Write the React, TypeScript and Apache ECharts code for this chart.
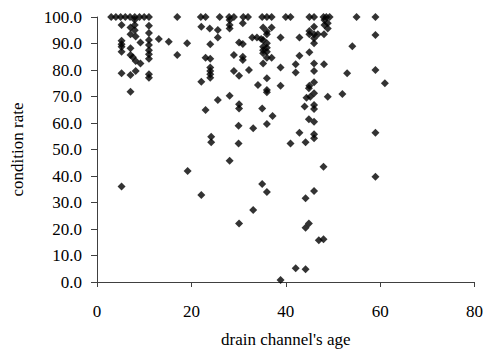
import React, { useEffect, useRef } from "react";
import * as echarts from "echarts";

// drain channel's age (x) and condition rate (y)
const ages: number[] = [
  3, 4, 5, 6, 7, 8, 9, 10, 11, 17, 22, 23, 26, 28, 29, 31, 32, 35, 36, 37, 40, 41, 45, 46, 48, 48.6, 49.3, 55, 59,
  5.2, 7.1, 8, 8, 8, 11, 7.1, 8.2, 9.2, 11, 11, 11, 11, 11, 11, 5.2, 5.2, 5.2, 5.2, 7.1, 7.1, 7.6, 8.2, 9.2,
  13.1, 15.2, 19.1, 17, 5.2, 7.1, 8.2, 11, 11, 7.1, 22.1, 25.6, 23, 22.1, 23.9, 25.6, 25.6, 24, 23, 24, 24, 24, 24, 24,
  28.1, 28.1, 28.1, 30.9, 35.2, 37, 36, 36, 32.9, 33.9, 34.8, 35.2, 36, 35.2, 36, 35.2, 36, 35.2, 38.9, 42.9,
  30.1, 30.9, 29, 30.9, 30.9, 36, 37, 35.2, 42.9, 45, 32.2, 38.9, 42.1, 42.1, 46, 48.1, 46, 29, 30.1, 36, 34.1,
  36, 36, 38.9, 45, 46, 46, 44.9, 44.4, 45.2, 48.9, 28.1, 30.1, 30.1, 35, 44, 46, 46,
  48.2, 48.9, 48.2, 48.9, 45, 45, 46, 46.8, 48.1, 46, 46, 46,
  59, 54.1, 53, 59, 61, 52,
  24.2, 24.2, 19.2, 5.2, 22.1,
  37.2, 30, 33.1, 36, 44.9, 46, 42.9, 46, 46, 30, 41, 44.2, 28.1, 48, 35, 36, 46, 44.2, 33.1,
  59, 59,
  30.1, 44.2, 44.9, 47, 48, 42.1, 44.2, 38.9,
];

const rates: number[] = [
  100, 100, 100, 100, 100, 100, 100, 100, 100, 100, 100, 100, 100, 100, 100, 100, 100, 100, 100, 100, 100, 100, 100, 100, 100, 100, 100, 100, 100,
  97, 96, 99, 97, 95, 96.7, 93.5, 92.6, 90.4, 94, 91.3, 89.4, 87.5, 85.9, 84.2, 91, 89.7, 88.8, 86.9, 88.2, 85.7, 84.8, 83.4, 82.5,
  91.7, 90.7, 90.1, 85.7, 78.8, 78.1, 79.6, 78.4, 77.1, 71.8, 75.6, 68.7, 64.9, 96.3, 95.7, 95.1, 92.3, 89.7, 84.6, 84.2, 80.9, 79.6, 78.4, 77.1,
  98.9, 97, 95.7, 97.6, 96, 96, 94.5, 93.5, 92.3, 92.3, 91.7, 91.3, 90.1, 88.8, 88.4, 87.5, 86.9, 86.3, 92.3, 92.3,
  90.4, 89.8, 85.7, 85, 83.8, 84.6, 84.6, 82.5, 85.4, 86.7, 80, 80.9, 82.2, 79.1, 82.5, 82.2, 79.6, 79.6, 77.8, 76.9, 74.3,
  72.5, 71.6, 74.1, 74.1, 75.4, 71.2, 73.1, 69.5, 69.9, 69.9, 70.3, 67.1, 65.5, 65.5, 66.2, 66.8, 65.3,
  98.9, 97.6, 97, 95.7, 94.7, 93.5, 93.5, 93.5, 93.5, 92, 90.1, 96.3,
  93.2, 89, 78.8, 80, 75, 70.9,
  54.8, 52.7, 41.9, 36, 32.8,
  62.6, 59, 58, 59.6, 61.4, 60.5, 56.3, 55.8, 54.2, 52.3, 52.3, 52.7, 45.8, 43.5, 37, 34, 34.3, 31.6, 27.2,
  56.3, 39.7,
  22.1, 20.5, 22.1, 15.8, 16.1, 5.2, 4.8, 0.8,
];

const xName = "drain channel's age";
const yName = "condition rate";

export default function App() {
  const ref = useRef<HTMLDivElement>(null);
  useEffect(() => {
    document.body.style.margin = "0";
    document.body.style.overflow = "hidden";
    if (!ref.current) return;
    const chart = echarts.init(ref.current, undefined, { renderer: "svg" });
    const data = ages.map((a, i) => [a, rates[i]]);
    const font = "'Liberation Serif', 'Times New Roman', serif";
    const axisCol = "#404040";
    chart.setOption({
      animation: false,
      backgroundColor: "#ffffff",
      grid: { left: 97, top: 17, right: 11, bottom: 71, containLabel: false },
      xAxis: {
        type: "value",
        min: 0,
        max: 80,
        interval: 20,
        name: xName,
        nameLocation: "middle",
        nameGap: 49,
        nameTextStyle: { fontFamily: font, fontSize: 17, color: "#000" },
        axisLine: { show: true, onZero: false, lineStyle: { color: axisCol, width: 1 } },
        axisTick: { show: true, inside: false, length: 5, lineStyle: { color: axisCol } },
        axisLabel: { fontFamily: font, fontSize: 17, color: "#000", margin: 21 },
        splitLine: { show: false },
      },
      yAxis: {
        type: "value",
        min: 0,
        max: 100,
        interval: 10,
        name: yName,
        nameLocation: "middle",
        nameGap: 71,
        nameRotate: 90,
        nameTextStyle: { fontFamily: font, fontSize: 17, color: "#000" },
        axisLine: { show: true, lineStyle: { color: axisCol, width: 1 } },
        axisTick: { show: true, inside: false, length: 6, lineStyle: { color: axisCol } },
        axisLabel: {
          fontFamily: font,
          fontSize: 17,
          color: "#000",
          margin: 15,
          formatter: (v: number) => v.toFixed(1),
        },
        splitLine: { show: false },
      },
      series: [
        {
          type: "scatter",
          data,
          symbol: "diamond",
          symbolSize: 8,
          itemStyle: { color: "#000000" },
        },
      ],
    });
    return () => chart.dispose();
  }, []);
  return <div ref={ref} style={{ width: 486, height: 353 }} />;
}
